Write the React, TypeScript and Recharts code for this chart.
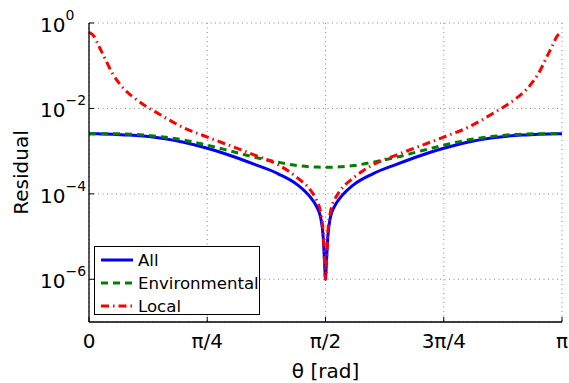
import React from 'react'
import { LineChart, Line, XAxis, YAxis, CartesianGrid } from 'recharts'

// theta in units of pi
const thetaOverPi = [
  0, 0.01, 0.02, 0.03, 0.05, 0.075, 0.1, 0.15, 0.2, 0.25, 0.3, 0.35, 0.4, 0.44, 0.47, 0.48, 0.49, 0.495, 0.498,
  0.5,
  0.502, 0.505, 0.51, 0.52, 0.53, 0.56, 0.6, 0.65, 0.7, 0.75, 0.8, 0.85, 0.9, 0.925, 0.95, 0.97, 0.98, 0.99, 1,
]

const allRes = [
  2.57e-3, 2.56e-3, 2.54e-3, 2.52e-3, 2.48e-3, 2.4e-3, 2.32e-3, 2.04e-3, 1.62e-3, 1.17e-3, 7.8e-4, 4.9e-4, 2.95e-4, 1.65e-4, 7.8e-5, 5.3e-5, 2.7e-5, 1.0e-5, 2.5e-6,
  1.0e-6,
  2.5e-6, 1.0e-5, 2.7e-5, 5.3e-5, 7.8e-5, 1.65e-4, 2.95e-4, 4.9e-4, 7.8e-4, 1.17e-3, 1.62e-3, 2.04e-3, 2.32e-3, 2.4e-3, 2.48e-3, 2.52e-3, 2.54e-3, 2.56e-3, 2.57e-3,
]

const envRes = [
  2.57e-3, 2.57e-3, 2.57e-3, 2.57e-3, 2.56e-3, 2.52e-3, 2.45e-3, 2.19e-3, 1.82e-3, 1.38e-3, 1.0e-3, 7.2e-4, 5.5e-4, 4.6e-4, 4.3e-4, 4.25e-4, 4.2e-4, 4.2e-4, 4.2e-4,
  4.2e-4,
  4.2e-4, 4.2e-4, 4.2e-4, 4.25e-4, 4.3e-4, 4.6e-4, 5.5e-4, 7.2e-4, 1.0e-3, 1.38e-3, 1.82e-3, 2.19e-3, 2.45e-3, 2.52e-3, 2.56e-3, 2.57e-3, 2.57e-3, 2.57e-3, 2.57e-3,
]

const localRes = [
  0.6, 0.5, 0.3, 0.18, 0.065, 0.028, 0.0162, 7.2e-3, 3.55e-3, 2.14e-3, 1.32e-3, 8.1e-4, 4.8e-4, 2.4e-4, 1.15e-4, 7.6e-5, 3.5e-5, 1.26e-5, 2.5e-6,
  1.0e-6,
  2.5e-6, 1.26e-5, 3.5e-5, 7.6e-5, 1.15e-4, 2.4e-4, 4.8e-4, 8.1e-4, 1.32e-3, 2.14e-3, 3.55e-3, 7.2e-3, 0.0162, 0.028, 0.065, 0.18, 0.3, 0.5, 0.6,
]

const xTicks = [0, 0.25, 0.5, 0.75, 1]
const xTickLabels = ['0', 'π/4', 'π/2', '3π/4', 'π']
const yTicks = [1, 1e-2, 1e-4, 1e-6]

const FONT = '"DejaVu Sans", sans-serif'

const data = thetaOverPi.map((t, i) => ({
  t,
  all: allRes[i],
  env: envRes[i],
  local: localRes[i],
}))

function BottomTick(props: any) {
  const { x, y, payload } = props
  const idx = xTicks.indexOf(payload.value)
  return (
    <g>
      <line x1={x} x2={x} y1={y} y2={y - 5} stroke="#000" />
      <text x={x} y={y + 26} textAnchor="middle" fontSize={20} fontFamily={FONT} fill="#000">
        {xTickLabels[idx]}
      </text>
    </g>
  )
}

function TopTick(props: any) {
  const { x, y } = props
  return <line x1={x} x2={x} y1={y} y2={y + 5} stroke="#000" />
}

function LeftTick(props: any) {
  const { x, y, payload } = props
  const exp = Math.round(Math.log10(payload.value))
  const expText = exp < 0 ? `\u2212${-exp}` : `${exp}`
  return (
    <g>
      <line x1={x} x2={x + 5} y1={y} y2={y} stroke="#000" />
      <text x={x - 49} y={y + 9} fontSize={20} fontFamily={FONT} fill="#000">
        <tspan>10</tspan>
        <tspan dy={-12} fontSize={14}>{expText}</tspan>
      </text>
    </g>
  )
}

function RightTick(props: any) {
  const { x, y } = props
  return <line x1={x} x2={x - 5} y1={y} y2={y} stroke="#000" />
}

const legendItems = [
  { name: 'All', color: '#0000ff', dash: undefined as string | undefined },
  { name: 'Environmental', color: '#008000', dash: '7 5' },
  { name: 'Local', color: '#ff0000', dash: '8 4 1.5 4' },
]

export default function App() {
  return (
    <div style={{ position: 'absolute', left: 0, top: 0, width: 569, height: 383, background: '#fff' }}>
      <LineChart width={569} height={383} data={data} margin={{ top: 23, right: 7, left: 0, bottom: 0 }}>
        <CartesianGrid stroke="#888" strokeDasharray="1 3.5" />
        <XAxis
          dataKey="t"
          type="number"
          domain={[0, 1]}
          ticks={xTicks}
          height={61}
          tickSize={0}
          tickMargin={0}
          tickLine={false}
          axisLine={{ stroke: '#000', strokeWidth: 1.3 }}
          tick={(p: any) => <BottomTick {...p} />}
          label={{ value: 'θ [rad]', position: 'insideBottom', offset: 5, fontSize: 20, fontFamily: FONT, fill: '#000' }}
        />
        <XAxis
          xAxisId="top"
          orientation="top"
          dataKey="t"
          type="number"
          domain={[0, 1]}
          ticks={xTicks}
          height={0}
          tickSize={0}
          tickMargin={0}
          tickLine={false}
          axisLine={{ stroke: '#000', strokeWidth: 1.3 }}
          tick={(p: any) => <TopTick {...p} />}
        />
        <YAxis
          scale="log"
          domain={[1e-7, 1]}
          allowDataOverflow
          ticks={yTicks}
          width={89}
          tickSize={0}
          tickMargin={0}
          tickLine={false}
          axisLine={{ stroke: '#000', strokeWidth: 1.3 }}
          tick={(p: any) => <LeftTick {...p} />}
          label={{
            value: 'Residual',
            angle: -90,
            position: 'insideLeft',
            offset: 21,
            fontSize: 20,
            fontFamily: FONT,
            fill: '#000',
            style: { textAnchor: 'middle' },
          }}
        />
        <YAxis
          yAxisId="right"
          orientation="right"
          scale="log"
          domain={[1e-7, 1]}
          allowDataOverflow
          ticks={yTicks}
          width={0}
          tickSize={0}
          tickMargin={0}
          tickLine={false}
          axisLine={{ stroke: '#000', strokeWidth: 1.3 }}
          tick={(p: any) => <RightTick {...p} />}
        />
        <Line dataKey="all" stroke="#0000ff" strokeWidth={3} dot={false} isAnimationActive={false} type="monotone" />
        <Line
          dataKey="env"
          stroke="#008000"
          strokeWidth={3}
          strokeDasharray="7 5"
          dot={false}
          isAnimationActive={false}
          type="monotone"
        />
        <Line
          dataKey="local"
          stroke="#ff0000"
          strokeWidth={3}
          strokeDasharray="8 4 1.5 4"
          dot={false}
          isAnimationActive={false}
          type="monotone"
        />
      </LineChart>

      {/* Legend box, bottom-left inside the axes */}
      <div
        style={{
          position: 'absolute',
          left: 94,
          top: 246,
          width: 166,
          height: 69,
          border: '1px solid #000',
          background: '#fff',
          boxSizing: 'border-box',
          fontFamily: FONT,
          fontSize: 16.6,
          color: '#000',
        }}
      >
        {legendItems.map((it, i) => (
          <div
            key={it.name}
            style={{ position: 'absolute', left: 5, top: 2 + i * 23, height: 22, display: 'flex', alignItems: 'center' }}
          >
            <svg width={34} height={10} style={{ marginRight: 4 }}>
              <line x1={1} x2={33} y1={5} y2={5} stroke={it.color} strokeWidth={3} strokeDasharray={it.dash} />
            </svg>
            <span>{it.name}</span>
          </div>
        ))}
      </div>
    </div>
  )
}
